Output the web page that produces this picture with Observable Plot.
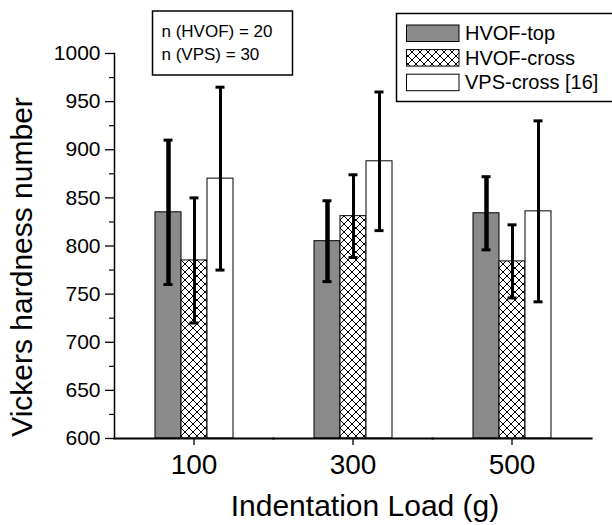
<!DOCTYPE html>
<html><head><meta charset="utf-8">
<script src="https://cdn.jsdelivr.net/npm/d3@7"></script>
<script src="https://cdn.jsdelivr.net/npm/@observablehq/plot@0.6"></script>
<style>body{margin:0;background:#fff}</style>
</head><body><div id="chart"></div>
<script>
const loads = ["100", "300", "500"];
const series = ["HVOF-top", "HVOF-cross", "VPS-cross [16]"];
const hvofTop = [835, 805, 834];
const hvofTopErr = [75, 42, 38];
const hvofCross = [785, 831, 784];
const hvofCrossErr = [65, 43, 38];
const vpsCross = [870, 888, 836];
const vpsCrossErr = [95, 72, 94];
const yBase = 600;
const yMax = 1000;
const yTicks = [600, 650, 700, 750, 800, 850, 900, 950, 1000];
const yMinorTicks = [625, 675, 725, 775, 825, 875, 925, 975];
const nLines = ["n (HVOF) = 20", "n (VPS) = 30"];
const xLabel = "Indentation Load (g)";
const yLabel = "Vickers hardness number";

const means = [hvofTop, hvofCross, vpsCross];
const errs = [hvofTopErr, hvofCrossErr, vpsCrossErr];
const rows = [];
loads.forEach((load, i) => {
  series.forEach((s, j) => rows.push({load, series: s, value: means[j][i], err: errs[j][i]}));
});

const font = "'Liberation Sans', Arial, Helvetica, sans-serif";

const chart = Plot.plot({
  width: 612, height: 525,
  marginLeft: 113, marginRight: 20, marginTop: 53, marginBottom: 87,
  style: {fontFamily: font, background: "#fff", color: "#000", overflow: "visible"},
  fx: {domain: loads, padding: 0},
  x: {domain: series, paddingInner: 0, paddingOuter: 1.46, axis: null},
  y: {domain: [yBase, yMax]},
  color: {domain: series, range: ["#8a8a8a", "url(#xhatch)", "#ffffff"]},
  marks: [
    Plot.barY(rows, {fx: "load", x: "series", y1: yBase, y2: "value", fill: "series", stroke: "#000", strokeWidth: 1}),
    Plot.ruleX(rows, {fx: "load", x: "series", y1: d => d.value - d.err, y2: d => d.value + d.err,
      stroke: "#000", strokeWidth: d => d.series === series[0] ? 4.5 : 3}),
    Plot.tickY(rows, {fx: "load", x: "series", y: d => d.value + d.err, insetLeft: 8.5, insetRight: 8.5, stroke: "#000", strokeWidth: 3}),
    Plot.tickY(rows, {fx: "load", x: "series", y: d => d.value - d.err, insetLeft: 8.5, insetRight: 8.5, stroke: "#000", strokeWidth: 3}),
    Plot.axisY({ticks: yTicks, tickSize: 9, tickPadding: 5, fontSize: 21, label: null, strokeWidth: 1.3, tickFormat: d => String(d)}),
    Plot.axisY({ticks: yMinorTicks, tickSize: 5, tickFormat: () => "", label: null, strokeWidth: 1.2}),
    Plot.axisFx({anchor: "bottom", tickSize: 7, tickPadding: 9, fontSize: 28, label: null, strokeWidth: 1.3}),
    Plot.frame({anchor: "left", facetAnchor: "left", strokeWidth: 1.5}),
    Plot.frame({anchor: "bottom", strokeWidth: 2.2}),
    Plot.text([xLabel], {text: d => d, frameAnchor: "bottom", facet: "super", dx: 12, dy: 68, textAnchor: "middle", lineAnchor: "middle", fontSize: 30, fill: "#000"}),
    Plot.text([yLabel], {text: d => d, frameAnchor: "left", facet: "super", dx: -92, dy: 21, rotate: -90, textAnchor: "middle", lineAnchor: "middle", fontSize: 30, fill: "#000"})
  ]
});

document.getElementById("chart").appendChild(chart);

const svg = d3.select(chart);
const defs = svg.insert("defs", ":first-child");
const pat = defs.append("pattern").attr("id", "xhatch").attr("patternUnits", "userSpaceOnUse")
  .attr("width", 8).attr("height", 8);
pat.append("rect").attr("width", 8).attr("height", 8).attr("fill", "#fff");
pat.append("path").attr("d", "M0,0L8,8M8,0L0,8").attr("stroke", "#000").attr("stroke-width", 1);

// n box
const nb = svg.append("g").attr("font-family", font).attr("text-anchor", "start");
nb.append("rect").attr("x", 152.5).attr("y", 11).attr("width", 140).attr("height", 64)
  .attr("fill", "#fff").attr("stroke", "#000").attr("stroke-width", 1.5);
nLines.forEach((t, i) => nb.append("text").attr("x", 161.5).attr("y", 37 + i * 22.6)
  .attr("font-size", 17).attr("fill", "#000").text(t));

// legend
const lg = svg.append("g").attr("font-family", font).attr("text-anchor", "start");
lg.append("rect").attr("x", 396.5).attr("y", 13.5).attr("width", 225).attr("height", 88)
  .attr("fill", "#fff").attr("stroke", "#000").attr("stroke-width", 1.5);
const fills = ["#8a8a8a", "url(#xhatch)", "#ffffff"];
series.forEach((s, i) => {
  const y0 = 25 + i * 24.6;
  lg.append("rect").attr("x", 406.5).attr("y", y0).attr("width", 52.5).attr("height", 16.5)
    .attr("fill", fills[i]).attr("stroke", "#000").attr("stroke-width", 1);
  lg.append("text").attr("x", 465).attr("y", y0 + 15).attr("font-size", 20).attr("fill", "#000").text(s);
});
</script>
</body></html>
